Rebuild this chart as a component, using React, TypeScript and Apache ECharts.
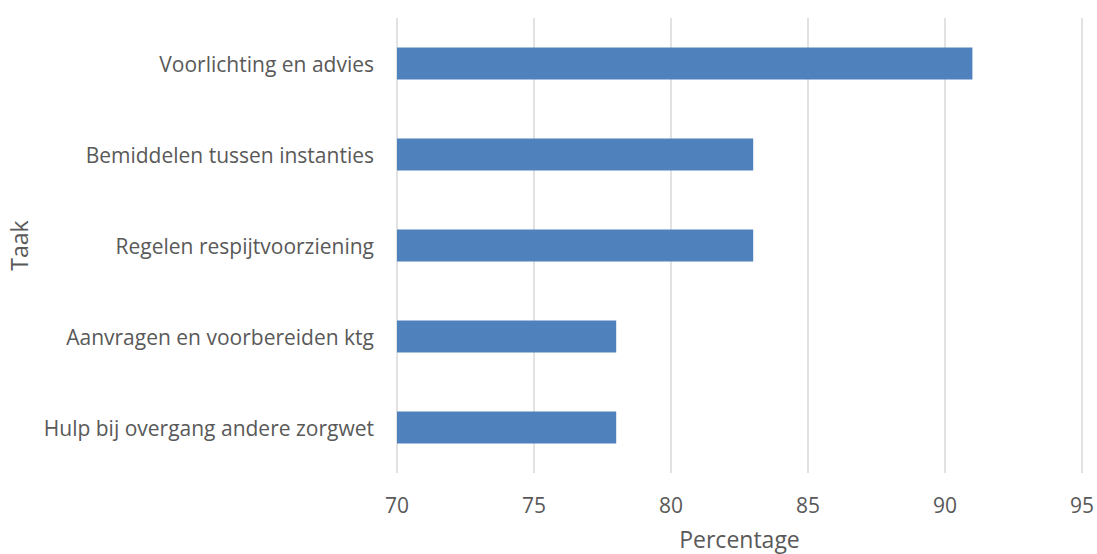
import React, { useEffect, useRef } from "react";
import * as echarts from "echarts";

const categories = [
  "Hulp bij overgang andere zorgwet",
  "Aanvragen en voorbereiden ktg",
  "Regelen respijtvoorziening",
  "Bemiddelen tussen instanties",
  "Voorlichting en advies",
];
const values = [78, 78, 83, 83, 91];
const xMin = 70;
const xMax = 95;
const xInterval = 5;

export default function App() {
  const ref = useRef<HTMLDivElement>(null);
  useEffect(() => {
    if (!ref.current) return;
    const chart = echarts.init(ref.current, undefined, { renderer: "svg" });
    const font = "'Open Sans', 'Noto Sans', sans-serif";
    chart.setOption({
      animation: false,
      grid: {
        left: 397,
        right: 15,
        top: 18,
        bottom: 81,
        containLabel: false,
        outerBoundsMode: "none",
      },
      xAxis: {
        type: "value",
        min: xMin,
        max: xMax,
        interval: xInterval,
        name: "Percentage",
        nameLocation: "middle",
        nameGap: 54,
        nameTextStyle: { color: "#595959", fontSize: 23, fontFamily: font },
        axisLine: { show: false },
        axisTick: { show: false },
        axisLabel: { color: "#595959", fontSize: 21, fontFamily: font, margin: 21 },
        splitLine: { show: true, lineStyle: { color: "#d9d9d9", width: 1.5 } },
      },
      yAxis: {
        type: "category",
        data: categories,
        name: "Taak",
        nameLocation: "middle",
        nameGap: 367,
        nameRotate: 90,
        nameTextStyle: { color: "#595959", fontSize: 23, fontFamily: font },
        axisLine: { show: false },
        axisTick: { show: false },
        axisLabel: { color: "#595959", fontSize: 21, fontFamily: font, margin: 23 },
        splitLine: { show: false },
      },
      series: [
        {
          type: "bar",
          data: values,
          barWidth: 32,
          itemStyle: { color: "#4F81BD" },
        },
      ],
    });
    return () => chart.dispose();
  }, []);
  return <div ref={ref} style={{ width: 1097, height: 554, position: "absolute", left: 0, top: 0 }} />;
}
